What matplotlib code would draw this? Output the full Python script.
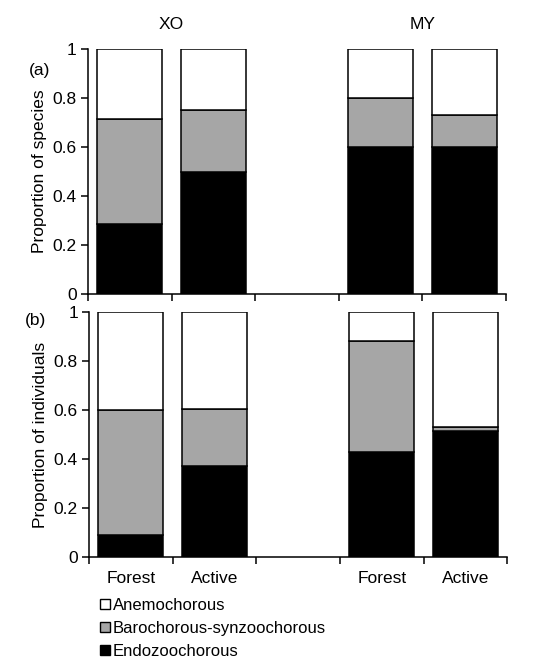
import matplotlib
matplotlib.use("Agg")
import matplotlib.pyplot as plt
import numpy as np
from matplotlib.lines import Line2D

plt.rcParams['font.family'] = ['Liberation Sans', 'DejaVu Sans']

sites = ["XO", "MY"]
categories = ["Forest", "Active", "", "Forest", "Active"]
series = ["Anemochorous", "Barochorous-synzoochorous", "Endozoochorous"]
colors = {"Anemochorous": "white", "Barochorous-synzoochorous": "#a6a6a6", "Endozoochorous": "black"}

# Panel (a): proportion of species (order: XO Forest, XO Active, gap, MY Forest, MY Active)
species_endo = [0.286, 0.50, np.nan, 0.60, 0.60]
species_baro = [0.428, 0.25, np.nan, 0.20, 0.133]
species_anemo = [0.286, 0.25, np.nan, 0.20, 0.267]

# Panel (b): proportion of individuals
indiv_endo = [0.091, 0.372, np.nan, 0.430, 0.514]
indiv_baro = [0.509, 0.234, np.nan, 0.450, 0.015]
indiv_anemo = [0.400, 0.394, np.nan, 0.120, 0.471]

yticks = [0, 0.2, 0.4, 0.6, 0.8, 1]
yticklabels = ["0", "0.2", "0.4", "0.6", "0.8", "1"]

fig = plt.figure(figsize=(5.43, 6.66), dpi=100)
ax1 = fig.add_axes([0.162, 0.5586, 0.770, 0.3674])
ax2 = fig.add_axes([0.164, 0.1637, 0.770, 0.3678])

def draw(ax, endo, baro, anemo, ylabel, show_x):
    x = np.arange(len(categories))
    e = np.array(endo); b = np.array(baro); a = np.array(anemo)
    kw = dict(width=0.78, edgecolor="black", linewidth=1.1)
    ax.bar(x, e, color=colors["Endozoochorous"], **kw)
    ax.bar(x, b, bottom=e, color=colors["Barochorous-synzoochorous"], **kw)
    ax.bar(x, a, bottom=e + b, color=colors["Anemochorous"], **kw)
    ax.set_xlim(-0.5, len(categories) - 0.5)
    ax.set_ylim(0, 1)
    ax.set_yticks(yticks)
    ax.set_yticklabels(yticklabels, fontsize=12.5)
    ax.set_xticks(np.arange(-0.5, len(categories)), minor=False)
    ax.set_xticklabels([])
    ax.set_xticks(x, minor=True)
    if show_x:
        ax.set_xticklabels(categories, minor=True, fontsize=12.5)
    ax.tick_params(axis="x", which="minor", length=0, pad=10)
    ax.tick_params(axis="x", which="major", direction="out", length=5, width=1.1)
    ax.tick_params(axis="y", direction="out", length=5, width=1.1, pad=3)
    for s in ["top", "right"]:
        ax.spines[s].set_visible(False)
    for s in ["left", "bottom"]:
        ax.spines[s].set_linewidth(1.1)
    ax.set_ylabel(ylabel, fontsize=12.5, labelpad=4)

draw(ax1, species_endo, species_baro, species_anemo, "Proportion of species", False)
draw(ax2, indiv_endo, indiv_baro, indiv_anemo, "Proportion of individuals", True)

ax1.text(0.5, 1.1, sites[0], transform=ax1.get_xaxis_transform(), ha="center", va="center", fontsize=12.5)
ax1.text(3.5, 1.1, sites[1], transform=ax1.get_xaxis_transform(), ha="center", va="center", fontsize=12.5)
fig.text(29 / 543, 1 - 71 / 666, "(a)", ha="left", va="center", fontsize=12.5)
fig.text(25 / 543, 1 - 320 / 666, "(b)", ha="left", va="center", fontsize=12.5)

handles = [Line2D([], [], marker="s", linestyle="none", markersize=7,
                  markerfacecolor=colors[s], markeredgecolor="black", markeredgewidth=1)
           for s in series]
fig.legend(handles, series, loc="upper left", bbox_to_anchor=(98 / 543, 1 - 598 / 666),
           frameon=False, fontsize=12, handletextpad=0.1, labelspacing=0.47,
           handlelength=0.8, borderaxespad=0, borderpad=0)

fig.savefig("out.png", dpi=100)
